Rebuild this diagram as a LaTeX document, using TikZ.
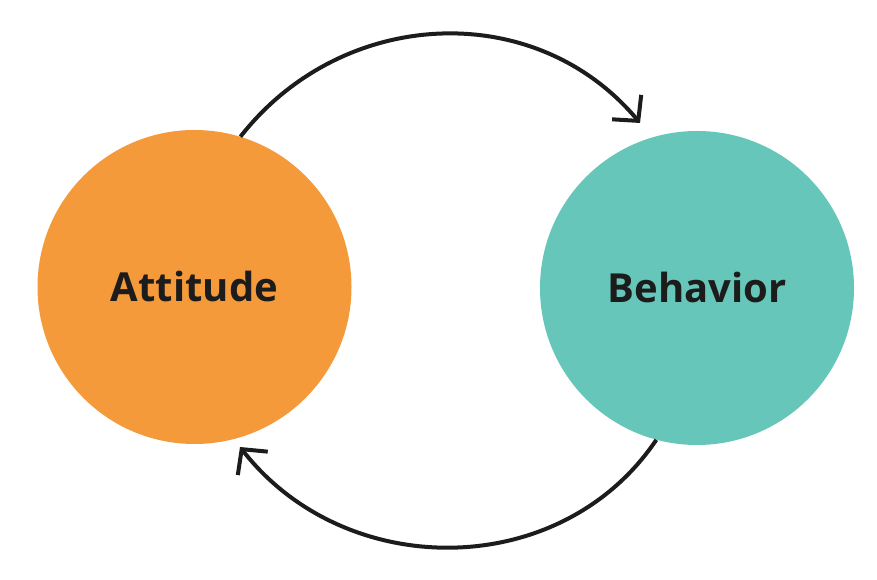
\documentclass[tikz,border=0pt]{standalone}
\usepackage{fontspec}
\setmainfont{Open Sans}
\usetikzlibrary{arrows.meta}
\definecolor{orangec}{HTML}{F49A3B}
\definecolor{tealc}{HTML}{66C6B9}
\definecolor{inkc}{HTML}{1C1C1C}
\begin{document}
\begin{tikzpicture}[x=1pt,y=1pt,
  blob/.style={circle,minimum size=314pt,inner sep=0pt,text=inkc,font=\fontsize{40}{44}\selectfont\bfseries},
  loop/.style={line width=4pt,draw=inkc,-{Straight Barb[length=18pt,width=38pt,line width=4pt]}}]
\useasboundingbox (0,0) rectangle (877,580);
\fill[white] (0,0) rectangle (877,580);
\node[blob,fill=orangec] (att) at (194.5,293) {Attitude};
\node[blob,fill=tealc] (beh) at (697,292) {Behavior};
\coordinate (tipB) at (640,457);
\coordinate (tipA) at (240,133);
\draw[loop] (att.73) to[out=52,in=130,looseness=1.05] (tipB);
\draw[loop] (beh.-105) to[out=-124,in=-52,looseness=1.05] (tipA);
\end{tikzpicture}
\end{document}
